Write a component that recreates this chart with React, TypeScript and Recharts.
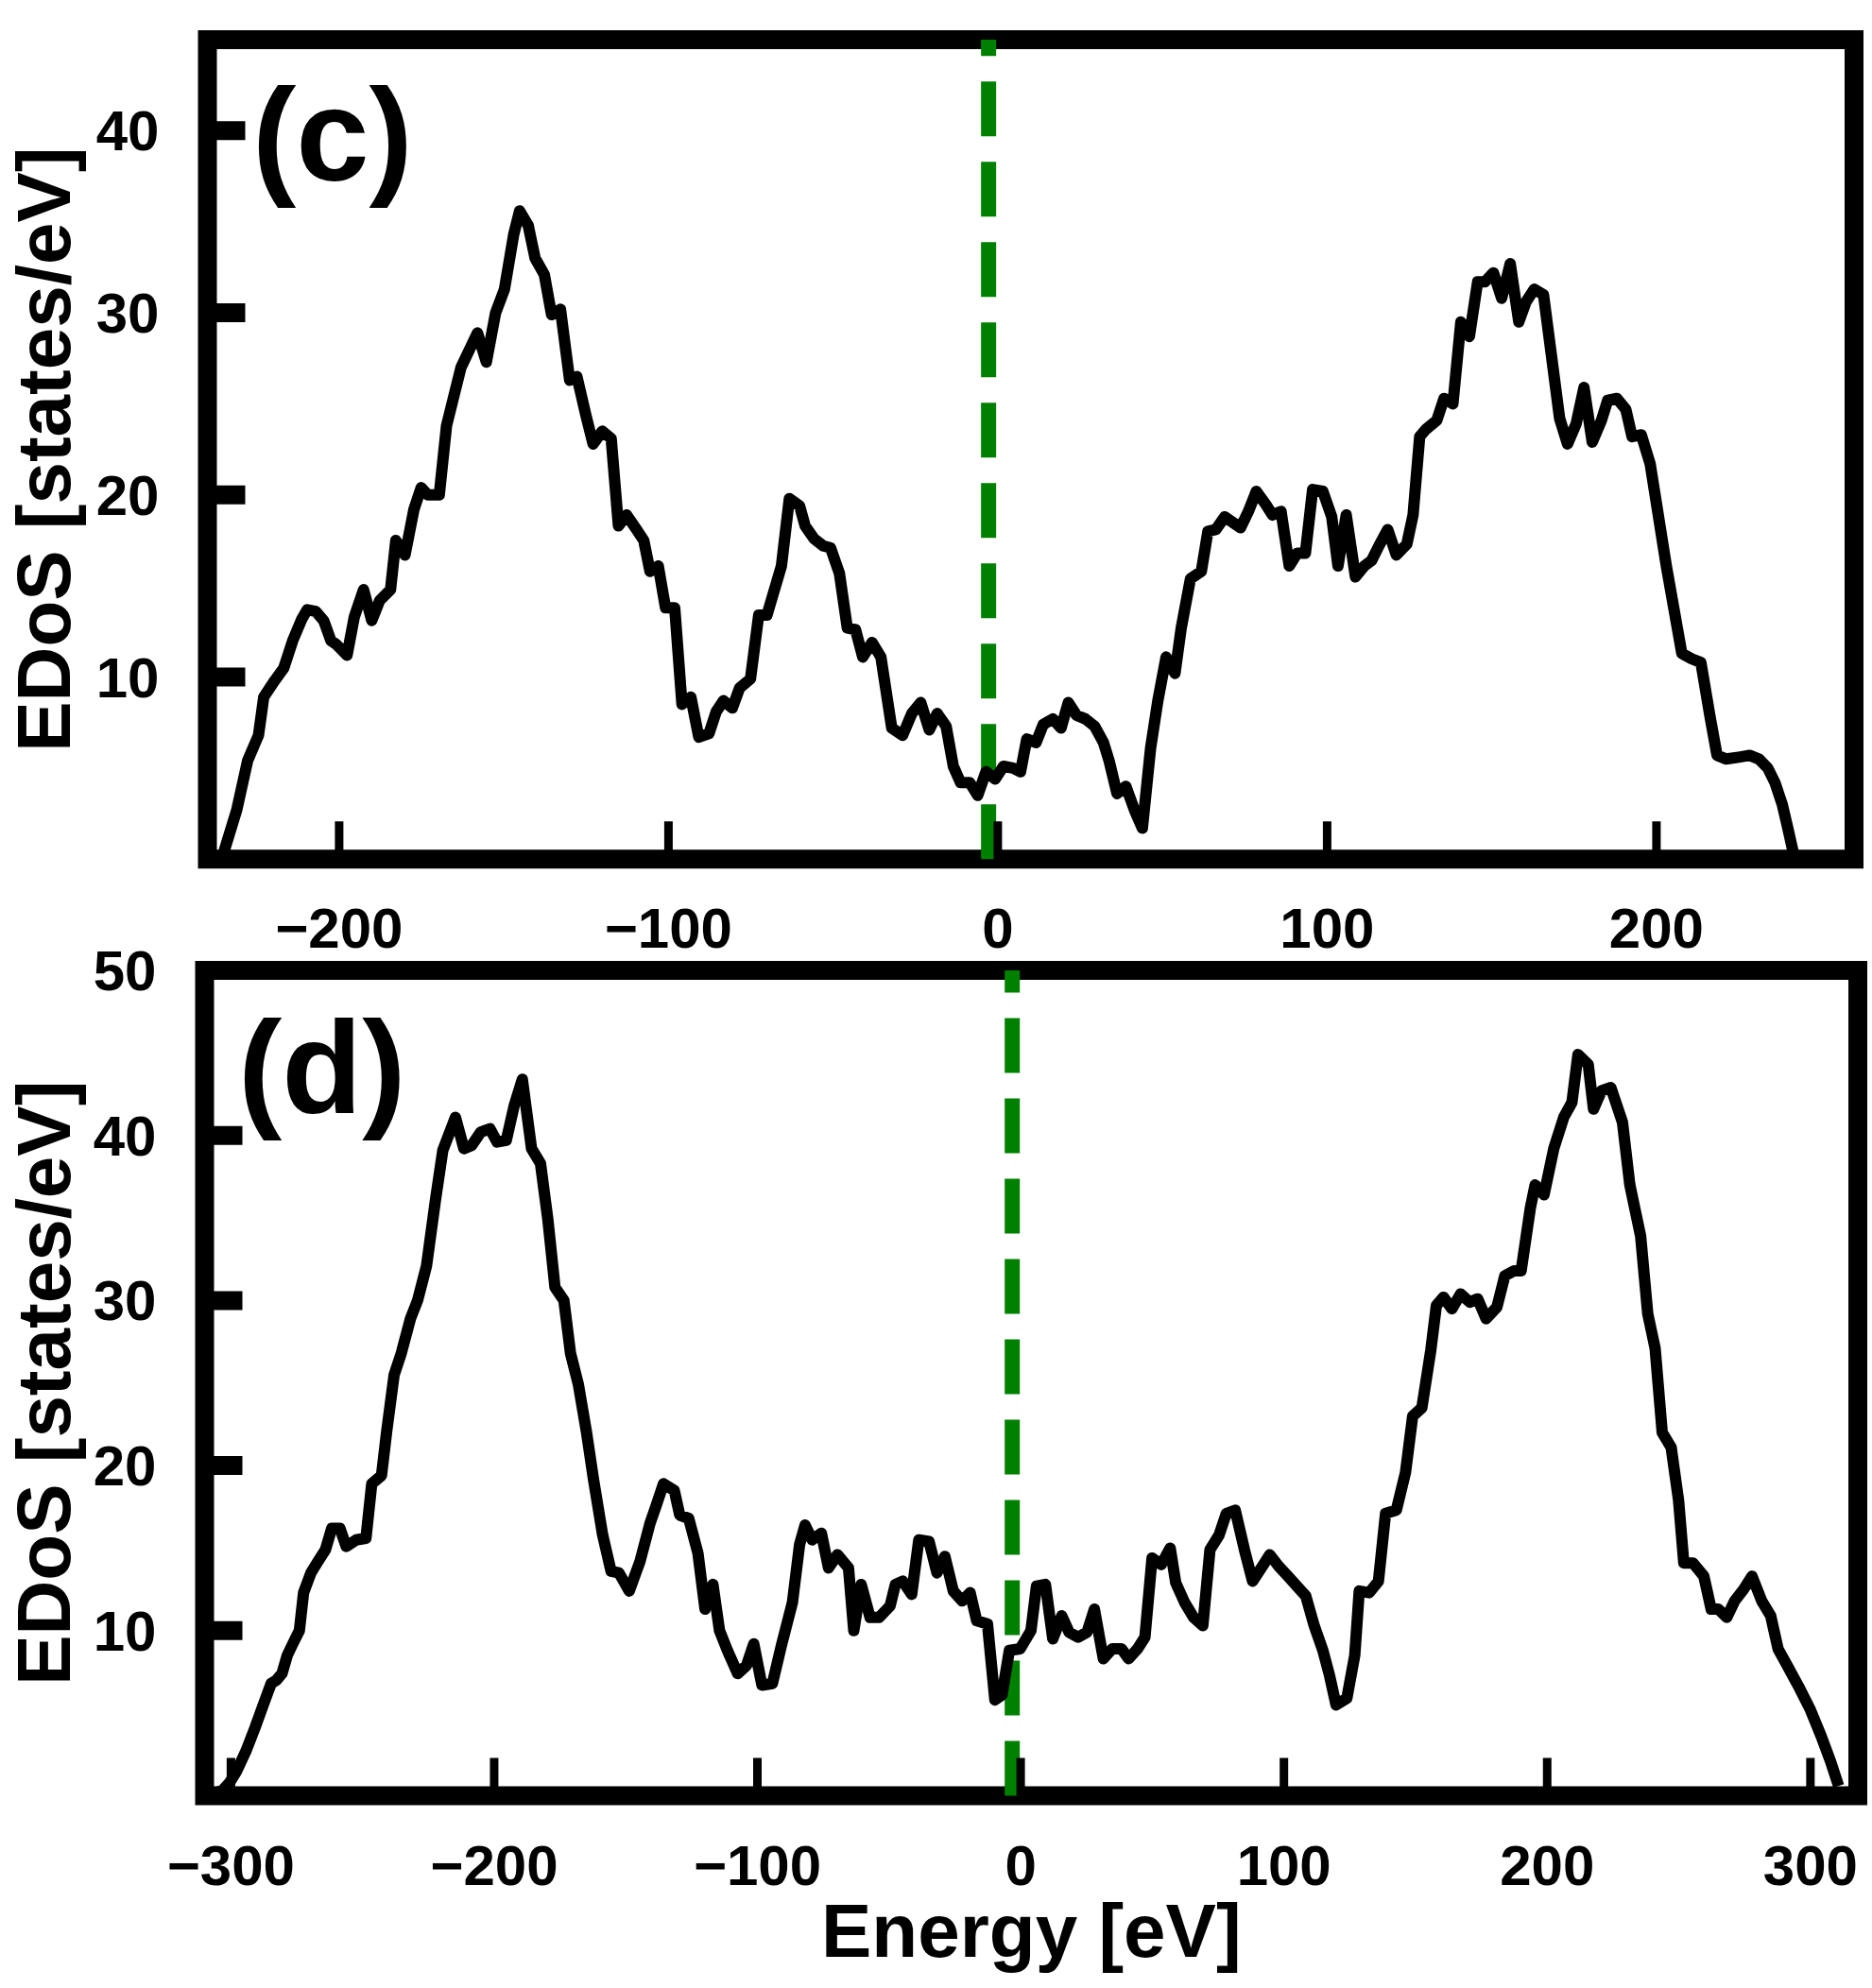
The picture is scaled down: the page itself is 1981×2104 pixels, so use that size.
import React from 'react';
import { LineChart, Line, XAxis, YAxis, ReferenceLine, ReferenceArea } from 'recharts';

const FONT = '"Liberation Sans", Arial, sans-serif';
const PAGE_W = 1981;

// ---- panel (c) ----
const energyC = [
  -235.5, -231.1, -227.8, -224.5, -222.9, -219.6, -216.8, -214.1, -211.3, -209.7,
  -207.1, -204.7, -202.5, -200.9, -197.6, -195.4, -192.6, -190.1, -187.7, -184.4,
  -182.8, -180.0, -177.3, -175.1, -173.1, -169.6, -167.4, -163.0, -158.0, -155.3,
  -152.5, -149.8, -147.0, -145.2, -142.6, -140.5, -137.7, -135.5, -132.8, -130.0,
  -127.8, -125.1, -122.9, -120.1, -117.4, -115.2, -112.7, -109.7, -107.5, -105.6,
  -103.1, -100.9, -98.1, -95.9, -93.2, -90.8, -87.7, -85.5, -83.3, -80.6,
  -78.4, -75.1, -72.6, -70.1, -65.7, -63.3, -60.2, -58.5, -55.8, -53.0,
  -50.8, -48.1, -45.7, -43.2, -41.0, -38.2, -35.5, -32.2, -28.9, -26.1,
  -23.4, -20.8, -18.4, -15.7, -13.5, -11.3, -8.5, -6.1, -3.6, -0.8,
  1.7, 4.6, 6.9, 8.8, 11.6, 13.8, 16.7, 19.2, 21.4, 23.9,
  26.6, 29.4, 32.1, 33.8, 36.2, 38.9, 41.5, 43.9, 46.4, 48.6,
  51.1, 53.8, 55.7, 58.5, 61.8, 63.8, 66.2, 68.9, 73.7, 76.1,
  78.5, 81.3, 83.4, 86.0, 88.5, 90.9, 93.4, 95.6, 98.7, 101.4,
  103.3, 105.8, 108.6, 111.3, 113.5, 115.7, 118.4, 121.0, 124.2, 126.1,
  128.1, 130.0, 133.3, 135.5, 138.2, 140.6, 143.2, 145.7, 147.9, 150.5,
  153.0, 155.6, 158.2, 160.4, 162.9, 165.7, 170.6, 173.0, 175.6, 178.0,
  180.5, 183.3, 185.2, 188.0, 190.7, 192.6, 195.4, 198.1, 203.0, 207.7,
  210.7, 213.5, 216.2, 218.4, 221.2, 225.0, 228.3, 231.1, 233.8, 236.0,
  238.2, 239.9, 241.5,
];
const dosC = [
  0.1, 2.7, 5.4, 6.8, 8.9, 9.8, 10.5, 12.0, 13.2, 13.7,
  13.6, 13.1, 12.0, 11.8, 11.2, 13.3, 14.8, 13.1, 14.2, 14.8,
  17.5, 16.7, 19.2, 20.4, 20.0, 20.0, 23.8, 27.0, 28.9, 27.3,
  30.0, 31.3, 34.3, 35.6, 34.8, 33.0, 32.1, 29.9, 30.2, 26.3,
  26.5, 24.4, 22.8, 23.5, 23.1, 18.3, 18.9, 18.1, 17.5, 15.8,
  16.1, 13.8, 13.8, 8.5, 8.9, 6.7, 6.9, 8.1, 8.7, 8.3,
  9.4, 9.9, 13.4, 13.4, 16.1, 19.8, 19.4, 18.3, 17.6, 17.2,
  17.1, 15.7, 12.7, 12.6, 11.1, 11.9, 11.1, 7.2, 6.8, 8.0,
  8.6, 7.1, 8.0, 7.3, 5.1, 4.2, 4.2, 3.5, 4.8, 4.4,
  5.1, 5.0, 4.8, 6.6, 6.4, 7.4, 7.7, 7.2, 8.6, 7.9,
  7.7, 7.3, 6.4, 5.4, 3.6, 4.0, 2.7, 1.7, 6.1, 8.7,
  11.1, 10.2, 12.7, 15.4, 15.8, 18.0, 18.1, 18.8, 18.2, 19.1,
  20.2, 19.5, 18.9, 19.1, 16.1, 16.8, 16.8, 20.3, 20.2, 18.8,
  16.1, 18.9, 15.5, 16.1, 16.4, 17.2, 18.1, 16.7, 17.3, 18.9,
  23.2, 23.6, 24.1, 25.3, 25.0, 29.5, 28.7, 31.7, 31.7, 32.2,
  30.8, 32.7, 29.5, 30.6, 31.3, 31.0, 24.2, 22.8, 23.9, 25.9,
  22.9, 24.1, 25.2, 25.3, 24.7, 23.2, 23.3, 21.7, 16.1, 11.3,
  11.0, 10.8, 7.9, 5.7, 5.5, 5.6, 5.7, 5.5, 5.0, 4.2,
  3.0, 1.7, 0.4,
];
const xTicksC = [-200, -100, 0, 100, 200];
const yTicksC = [10, 20, 30, 40];
const fermiC = -2.8;

// ---- panel (d) ----
const energyD = [
  -306.0, -303.3, -300.5, -297.8, -294.3, -290.9, -287.5, -284.7, -282.7, -280.6,
  -278.6, -276.5, -274.0, -272.4, -269.6, -266.9, -264.1, -261.7, -258.6, -256.2,
  -252.4, -248.7, -246.5, -242.8, -240.8, -238.0, -235.3, -231.8, -229.1, -225.7,
  -222.2, -219.5, -214.7, -211.5, -208.5, -205.1, -201.6, -198.9, -195.4, -192.4,
  -189.3, -185.8, -182.4, -179.6, -176.9, -173.5, -171.0, -168.0, -165.0, -162.3,
  -158.8, -155.6, -152.6, -148.7, -144.6, -140.8, -138.4, -135.7, -131.6, -129.5,
  -126.1, -122.6, -119.9, -116.9, -114.4, -111.4, -107.5, -104.1, -101.4, -98.3,
  -94.3, -90.9, -86.7, -84.0, -81.9, -79.2, -75.7, -73.0, -69.6, -65.4,
  -63.4, -60.6, -57.2, -53.8, -49.6, -47.6, -44.8, -41.4, -38.7, -34.8,
  -31.8, -28.8, -25.6, -22.2, -19.2, -16.7, -12.6, -9.8, -7.1, -4.3,
  -0.2, 3.9, 6.0, 9.4, 12.2, 15.6, 18.4, 21.8, 25.2, 28.0,
  31.4, 34.8, 38.3, 41.0, 44.4, 47.2, 49.9, 53.4, 56.8, 58.9,
  62.3, 65.7, 69.2, 71.9, 75.4, 78.1, 81.5, 85.0, 88.1, 91.8,
  94.6, 98.0, 101.5, 104.9, 108.3, 111.5, 114.8, 117.3, 119.8, 123.9,
  126.9, 128.6, 132.4, 135.9, 138.6, 142.7, 146.2, 148.9, 152.4, 155.8,
  157.9, 160.6, 163.8, 167.1, 170.6, 173.6, 176.8, 180.9, 183.9, 187.4,
  190.1, 193.6, 195.4, 198.8, 202.5, 206.3, 209.4, 211.7, 215.6, 217.6,
  220.6, 224.2, 228.6, 231.4, 235.5, 238.2, 241.0, 243.7, 247.1, 249.9,
  251.9, 255.4, 259.5, 262.3, 265.0, 268.2, 271.2, 274.6, 277.8, 281.5,
  284.9, 287.7, 291.8, 295.9, 300.0, 304.1, 307.6, 310.7,
];
const dosD = [
  0.2, 0.3, 0.8, 1.5, 2.7, 4.1, 5.6, 6.8, 7.0, 7.4,
  8.5, 9.2, 10.0, 12.3, 13.5, 14.2, 14.9, 16.2, 16.2, 15.1,
  15.5, 15.6, 18.9, 19.4, 22.1, 25.5, 26.8, 28.9, 30.0, 32.1,
  36.2, 39.1, 41.1, 39.2, 39.4, 40.2, 40.4, 39.6, 39.7, 41.8,
  43.4, 39.2, 38.3, 34.9, 30.8, 30.0, 26.8, 24.9, 22.1, 19.2,
  15.8, 13.6, 13.5, 12.4, 14.2, 16.5, 17.6, 18.9, 18.5, 17.0,
  16.8, 14.7, 11.3, 12.8, 10.0, 8.8, 7.4, 7.9, 9.2, 6.7,
  6.8, 9.1, 11.7, 15.2, 16.4, 15.5, 15.9, 13.8, 14.6, 13.8,
  10.0, 12.8, 10.8, 10.8, 11.5, 12.8, 13.0, 12.2, 15.5, 15.4,
  13.5, 14.5, 12.4, 11.8, 12.3, 10.6, 10.4, 5.8, 6.1, 8.8,
  8.9, 10.0, 12.7, 12.8, 9.5, 10.9, 9.9, 9.6, 9.9, 11.3,
  8.3, 8.9, 8.9, 8.3, 8.9, 9.6, 14.4, 14.0, 15.0, 12.9,
  11.7, 10.8, 10.3, 14.9, 15.8, 17.1, 17.3, 14.9, 13.0, 13.9,
  14.6, 13.9, 13.3, 12.7, 12.1, 10.3, 8.8, 7.3, 5.5, 5.9,
  8.5, 12.4, 12.3, 13.0, 17.1, 17.3, 19.6, 23.0, 23.5, 27.0,
  29.7, 30.2, 29.5, 30.4, 29.9, 30.1, 28.9, 29.6, 31.5, 31.8,
  31.8, 35.6, 37.0, 36.4, 39.2, 41.1, 42.0, 44.9, 44.3, 41.6,
  42.7, 42.9, 40.8, 37.0, 33.9, 29.2, 27.1, 22.0, 21.1, 17.9,
  14.1, 14.1, 13.3, 11.3, 11.3, 10.8, 11.8, 12.5, 13.3, 11.8,
  10.9, 8.9, 7.7, 6.5, 5.2, 3.6, 2.1, 0.6,
];
const xTicksD = [-300, -200, -100, 0, 100, 200, 300];
const yTicksD = [10, 20, 30, 40, 50];
const fermiD = -3.2;

const fmt = (v: number) => (v < 0 ? '\u2212' + Math.abs(v) : String(v));

// tick marks point into the plot; labels sit outside
const YTick = (props: any) => {
  const { x, y, payload } = props;
  return (
    <g>
      <line x1={x} y1={y} x2={x + 40} y2={y} stroke="#000" strokeWidth={20} />
      <text x={x - 51} y={y + 21} textAnchor="end" fontFamily={FONT} fontWeight="bold" fontSize={60} fill="#000">
        {fmt(payload.value)}
      </text>
    </g>
  );
};

const XTick = (props: any) => {
  const { x, y, payload } = props;
  return (
    <g>
      <line x1={x} y1={y} x2={x} y2={y - 40} stroke="#000" strokeWidth={9} />
      <text x={x} y={y + 94} textAnchor="middle" fontFamily={FONT} fontWeight="bold" fontSize={60} fill="#000">
        {fmt(payload.value)}
      </text>
    </g>
  );
};

interface PanelProps {
  energy: number[];
  dos: number[];
  xDomain: [number, number];
  xTicks: number[];
  yDomain: [number, number];
  yTicks: number[];
  fermi: number;
  top: number;
  height: number;
  plotLeft: number;
  plotRight: number;
  plotTop: number;
  plotBottom: number;
  tag: string;
  tagDx: number;
  tagDy: number;
  xTitle?: string;
}

const Panel: React.FC<PanelProps> = (p) => {
  const data = p.energy.map((e, i) => ({ e, dos: p.dos[i] }));
  const midY = (p.plotTop + p.plotBottom) / 2;
  const midX = (p.plotLeft + p.plotRight) / 2;

  const yTitle = () => (
    <g>
      <text
        x={74}
        y={midY}
        transform={`rotate(-90 74 ${midY})`}
        textAnchor="middle"
        fontFamily={FONT}
        fontWeight="bold"
        fontSize={80}
        fill="#000"
      >
        EDoS [states/eV]
      </text>
      <text
        x={p.plotLeft + p.tagDx}
        y={p.plotTop + p.tagDy}
        fontFamily={FONT}
        fontWeight="bold"
        fontSize={139}
        fill="#000"
      >
        {p.tag}
      </text>
    </g>
  );

  const xTitle = () =>
    p.xTitle ? (
      <text x={midX} y={p.plotBottom + 170.5} textAnchor="middle" fontFamily={FONT} fontWeight="bold" fontSize={80} fill="#000">
        {p.xTitle}
      </text>
    ) : null;

  return (
    <div style={{ position: 'absolute', left: 0, top: p.top }}>
      <LineChart
        width={PAGE_W}
        height={p.height}
        data={data}
        margin={{ top: p.plotTop, right: PAGE_W - p.plotRight, bottom: 0, left: 0 }}
      >
        <XAxis
          type="number"
          dataKey="e"
          domain={p.xDomain}
          ticks={p.xTicks}
          interval={0}
          height={p.height - p.plotBottom}
          axisLine={false}
          tickLine={false}
          tickSize={0}
          tickMargin={0}
          tick={<XTick />}
          label={{ content: xTitle }}
        />
        <YAxis
          type="number"
          domain={p.yDomain}
          ticks={p.yTicks}
          interval={0}
          width={p.plotLeft}
          axisLine={false}
          tickLine={false}
          tickSize={0}
          tickMargin={0}
          tick={<YTick />}
          label={{ content: yTitle }}
        />
        <ReferenceLine
          x={p.fermi}
          stroke="#008000"
          strokeWidth={16}
          strokeDasharray="58 27"
        />
        <Line
          type="linear"
          dataKey="dos"
          stroke="#000"
          strokeWidth={12}
          strokeLinejoin="round"
          dot={false}
          activeDot={false}
          isAnimationActive={false}
        />
        <ReferenceArea
          x1={p.xDomain[0]}
          x2={p.xDomain[1]}
          y1={p.yDomain[0]}
          y2={p.yDomain[1]}
          fill="none"
          fillOpacity={0}
          stroke="#000"
          strokeWidth={20}
          ifOverflow="visible"
        />
      </LineChart>
    </div>
  );
};

export default function App() {
  return (
    <div style={{ position: 'absolute', left: 0, top: 0, width: PAGE_W, height: 2104, background: '#fff' }}>
      <Panel
        energy={energyC}
        dos={dosC}
        xDomain={[-240, 260]}
        xTicks={xTicksC}
        yDomain={[0, 45]}
        yTicks={yTicksC}
        fermi={fermiC}
        top={0}
        height={1016}
        plotLeft={219.5}
        plotRight={1962}
        plotTop={42}
        plotBottom={909.3}
        tag="(c)"
        tagDx={47.5}
        tagDy={149}
      />
      <Panel
        energy={energyD}
        dos={dosD}
        xDomain={[-310, 318]}
        xTicks={xTicksD}
        yDomain={[0, 50]}
        yTicks={yTicksD}
        fermi={fermiD}
        top={960}
        height={1144}
        plotLeft={216.5}
        plotRight={1966}
        plotTop={67}
        plotBottom={940.5}
        tag="(d)"
        tagDx={35.5}
        tagDy={151}
        xTitle="Energy [eV]"
      />
    </div>
  );
}
